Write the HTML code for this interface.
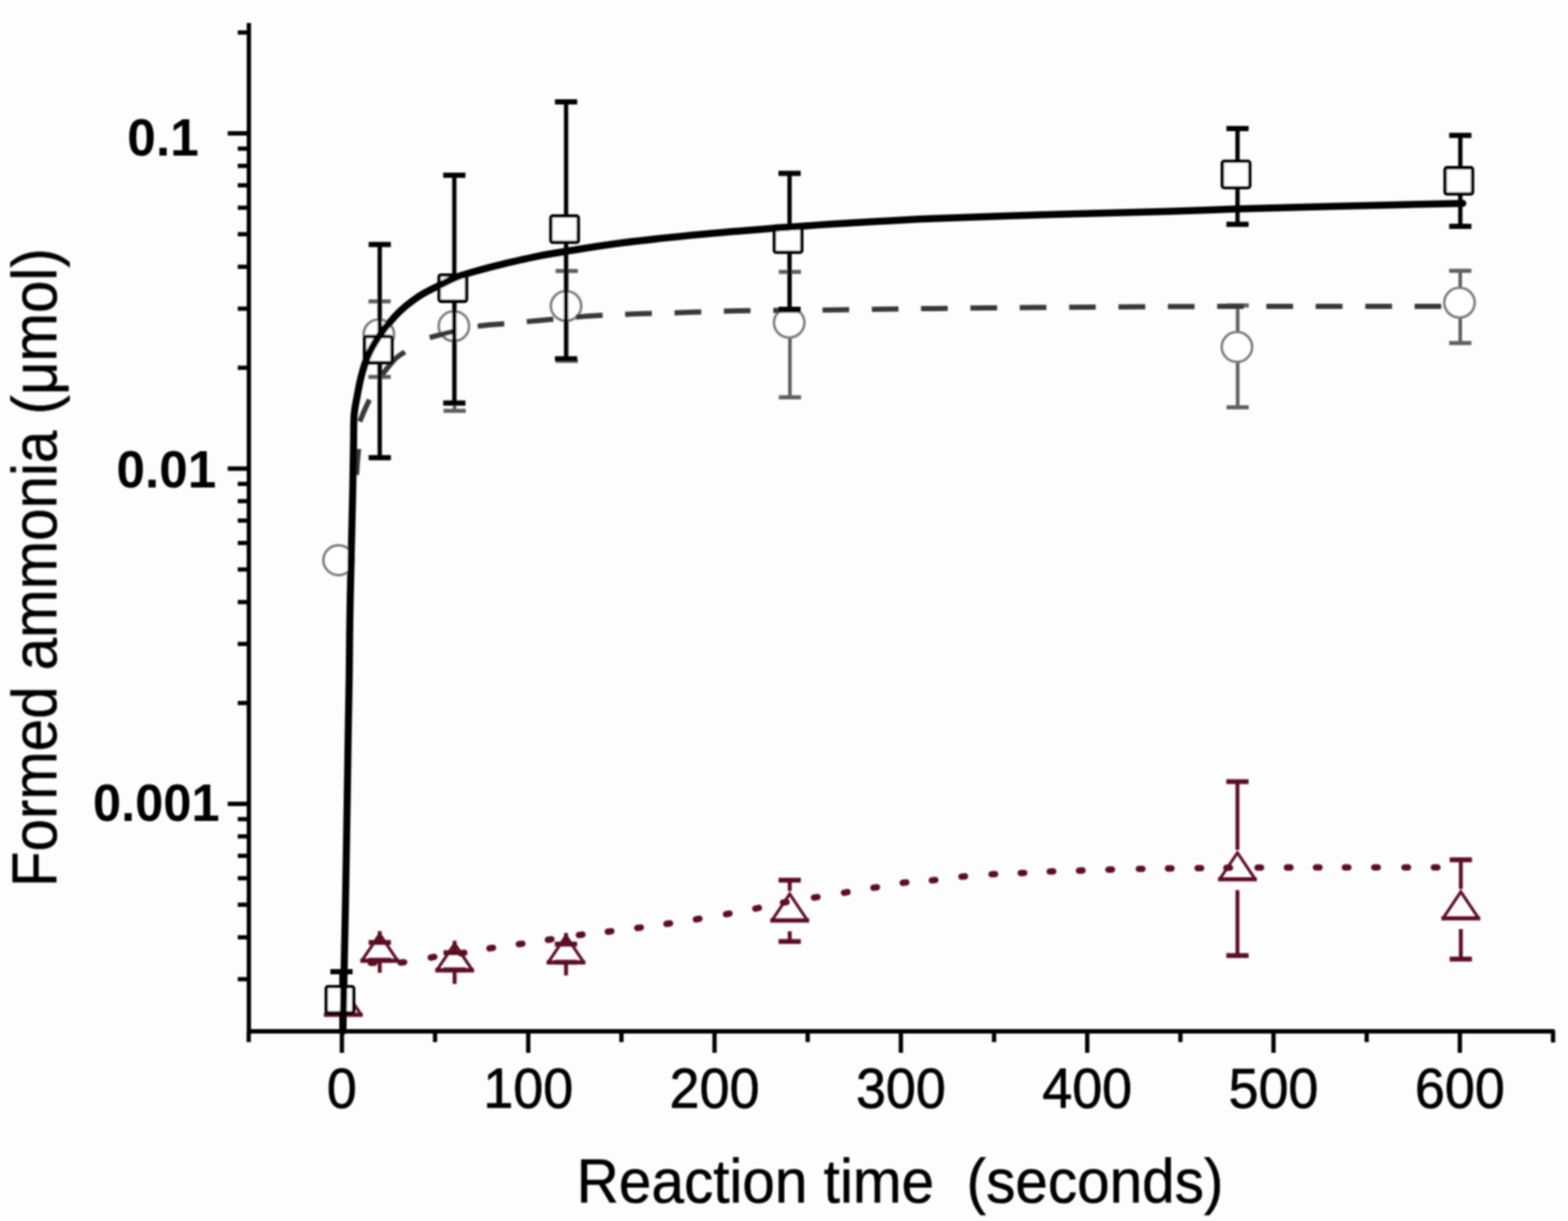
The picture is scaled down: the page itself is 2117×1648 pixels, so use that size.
<!DOCTYPE html><html><head><meta charset="utf-8"><title>Formed ammonia vs reaction time</title>
<style>html,body{margin:0;padding:0;background:#fdfdfd;overflow:hidden}svg{display:block}</style></head><body>
<svg width="2117" height="1648" viewBox="0 0 2117 1648">
<rect width="2117" height="1648" fill="#fdfdfd"/>
<defs><filter id="bl" x="0" y="0" width="2117" height="1648" filterUnits="userSpaceOnUse"><feGaussianBlur stdDeviation="1.1"/></filter></defs>
<g filter="url(#bl)">
<path d="M336 31 V1392 M333.1 1392 H2096.8 V1407 M307.5 180.0 H336 M321 43.8 H336 M307.5 632.5 H336 M321 496.3 H336 M321 416.6 H336 M321 360.1 H336 M321 316.2 H336 M321 280.4 H336 M321 250.1 H336 M321 223.9 H336 M321 200.7 H336 M307.5 1085.0 H336 M321 948.8 H336 M321 869.1 H336 M321 812.6 H336 M321 768.7 H336 M321 732.9 H336 M321 702.6 H336 M321 676.4 H336 M321 653.2 H336 M321 1321.6 H336 M321 1265.1 H336 M321 1221.2 H336 M321 1185.4 H336 M321 1155.1 H336 M321 1128.9 H336 M321 1105.7 H336 M321 43.8 H336 M335.8 1392 V1406.5 M461.6 1392 V1421 M587.4 1392 V1406.5 M713.2 1392 V1421 M839.0 1392 V1406.5 M964.7 1392 V1421 M1090.5 1392 V1406.5 M1216.3 1392 V1421 M1342.1 1392 V1406.5 M1467.9 1392 V1421 M1593.7 1392 V1406.5 M1719.4 1392 V1421 M1845.2 1392 V1406.5 M1971.0 1392 V1421" stroke="#000" stroke-width="5.8" fill="none" stroke-linejoin="round"/>
<g font-family="'Liberation Sans', Arial, sans-serif" fill="#000">
<text x="461.6" y="1495.0" font-size="75.6" stroke="#000" stroke-width="0.9" text-anchor="middle" textLength="40.5" lengthAdjust="spacingAndGlyphs">0</text>
<text x="713.2" y="1495.0" font-size="75.6" stroke="#000" stroke-width="0.9" text-anchor="middle" textLength="121.3" lengthAdjust="spacingAndGlyphs">100</text>
<text x="964.7" y="1495.0" font-size="75.6" stroke="#000" stroke-width="0.9" text-anchor="middle" textLength="121.3" lengthAdjust="spacingAndGlyphs">200</text>
<text x="1216.3" y="1495.0" font-size="75.6" stroke="#000" stroke-width="0.9" text-anchor="middle" textLength="121.3" lengthAdjust="spacingAndGlyphs">300</text>
<text x="1467.9" y="1495.0" font-size="75.6" stroke="#000" stroke-width="0.9" text-anchor="middle" textLength="121.3" lengthAdjust="spacingAndGlyphs">400</text>
<text x="1719.4" y="1495.0" font-size="75.6" stroke="#000" stroke-width="0.9" text-anchor="middle" textLength="121.3" lengthAdjust="spacingAndGlyphs">500</text>
<text x="1971.0" y="1495.0" font-size="75.6" stroke="#000" stroke-width="0.9" text-anchor="middle" textLength="121.3" lengthAdjust="spacingAndGlyphs">600</text>
<text x="171.8" y="209.6" font-size="69.5" font-weight="bold" textLength="96.6" lengthAdjust="spacingAndGlyphs">0.1</text>
<text x="157.3" y="657.7" font-size="69.5" font-weight="bold" textLength="134.6" lengthAdjust="spacingAndGlyphs">0.01</text>
<text x="125.6" y="1107.7" font-size="69.5" font-weight="bold" textLength="171" lengthAdjust="spacingAndGlyphs">0.001</text>
<text transform="translate(778.6,1622.5) scale(0.9455,1)" font-size="83.5" stroke="#000" stroke-width="0.7">Reaction time&#160;&#160;(seconds)</text>
<text transform="translate(76,1197.3) rotate(-90) scale(0.925,1)" font-size="85" stroke="#000" stroke-width="0.6">Formed ammonia (μmol)</text>
</g>
<path d="M512.5 406.8 V508.7 M613.8 400 V554.5 M765.2 365.7 V487 M1066.5 367 V536.3 M1671.0 412.3 V549.8 M1971.5 365.6 V463.0" stroke="#5e5e5e" stroke-width="4.8" fill="none"/>
<path d="M497.5 406.8 h30 M497.5 508.7 h30 M598.8 400 h30 M598.8 554.5 h30 M750.2 365.7 h30 M750.2 487 h30 M1051.5 367 h30 M1051.5 536.3 h30 M1656.0 412.3 h30 M1656.0 549.8 h30 M1956.5 365.6 h30 M1956.5 463.0 h30" stroke="#5e5e5e" stroke-width="5.5" fill="none"/>
<ellipse cx="457.1" cy="756.1" rx="20.4" ry="20.0" fill="#fff" stroke="#7c7c7c" stroke-width="3.6"/>
<ellipse cx="511.5" cy="451.3" rx="20.4" ry="20.0" fill="#fff" stroke="#7c7c7c" stroke-width="3.6"/>
<ellipse cx="612.8" cy="440.2" rx="20.4" ry="20.0" fill="#fff" stroke="#7c7c7c" stroke-width="3.6"/>
<ellipse cx="764.2" cy="413.0" rx="20.4" ry="20.0" fill="#fff" stroke="#7c7c7c" stroke-width="3.6"/>
<ellipse cx="1065.5" cy="435.5" rx="20.4" ry="20.0" fill="#fff" stroke="#7c7c7c" stroke-width="3.6"/>
<ellipse cx="1670.0" cy="468.3" rx="20.4" ry="20.0" fill="#fff" stroke="#7c7c7c" stroke-width="3.6"/>
<ellipse cx="1970.5" cy="408.5" rx="20.4" ry="20.0" fill="#fff" stroke="#7c7c7c" stroke-width="3.6"/>
<path d="M577.60 456.30 C583.58 454.72 602.45 449.43 613.50 446.80 C624.55 444.17 632.82 442.13 643.90 440.50 C654.98 438.87 665.82 438.33 680.00 437.00 C694.18 435.67 709.67 434.25 729.00 432.50 C748.33 430.75 773.83 427.98 796.00 426.50 C818.17 425.02 839.75 424.42 862.00 423.60 C884.25 422.78 907.17 422.27 929.50 421.60 C951.83 420.93 973.75 420.07 996.00 419.60 C1018.25 419.13 1040.83 419.03 1063.00 418.80 C1085.17 418.57 1107.00 418.45 1129.00 418.20 C1151.00 417.95 1173.00 417.60 1195.00 417.30 C1217.00 417.00 1226.83 416.78 1261.00 416.40 C1295.17 416.02 1346.83 415.43 1400.00 415.00 C1453.17 414.57 1520.00 414.05 1580.00 413.80 C1640.00 413.55 1699.00 413.55 1760.00 413.50 C1821.00 413.45 1915.00 413.50 1946.00 413.50" fill="none" stroke="#383838" stroke-width="7.0" stroke-dasharray="35.97 30.64" stroke-dashoffset="63.90"/>
<path d="M481.30 641.00 C481.52 637.83 482.12 627.83 482.60 622.00 C483.08 616.17 483.93 608.67 484.20 606.00" fill="none" stroke="#383838" stroke-width="7.0"/>
<path d="M485.80 569.00 C486.83 566.50 489.83 558.92 492.00 554.00 C494.17 549.08 497.67 541.92 498.80 539.50" fill="none" stroke="#383838" stroke-width="7.0"/>
<path d="M516.00 505.50 C518.83 502.08 527.92 490.08 533.00 485.00 C538.08 479.92 544.25 476.67 546.50 475.00" fill="none" stroke="#383838" stroke-width="7.0"/>
<path d="M512.7 1272 V1256.8 M512.7 1296 V1313.0 M613.8 1285.7 V1269.8 M613.8 1309.0 V1328.0 M764.2 1274.3 V1259.2 M764.2 1298.7 V1316.5 M1066.2 1188 V1202.6 M1066.2 1270.8 V1257.0 M1670.7 1055.1 V1147.0 M1670.7 1289.8 V1201.4 M1972.3 1160.6 V1199.7 M1972.3 1294.4 V1254.1" stroke="#5c0820" stroke-width="5.2" fill="none"/>
<path d="M497.70000000000005 1272 h30 M497.70000000000005 1296 h30 M598.8 1285.7 h30 M598.8 1309.0 h30 M749.2 1274.3 h30 M749.2 1298.7 h30 M1051.2 1188 h30 M1051.2 1270.8 h30 M1655.7 1055.1 h30 M1655.7 1289.8 h30 M1957.3 1160.6 h30 M1957.3 1294.4 h30" stroke="#5c0820" stroke-width="6.5" fill="none"/>
<path d="M439.7 1369.2 L463.5 1333.8 L487.3 1369.2" fill="none" stroke="#5c0820" stroke-width="4.0" stroke-linejoin="miter" stroke-miterlimit="10"/>
<path d="M437.3 1369.6 H489.7" fill="none" stroke="#5c0820" stroke-width="5.6"/>
<path d="M488.90000000000003 1296.2 L512.7 1260.8 L536.5 1296.2" fill="none" stroke="#5c0820" stroke-width="4.0" stroke-linejoin="miter" stroke-miterlimit="10"/>
<path d="M486.50000000000006 1296.6 H538.9000000000001" fill="none" stroke="#5c0820" stroke-width="5.6"/>
<path d="M590.0 1309.2 L613.8 1273.8 L637.5999999999999 1309.2" fill="none" stroke="#5c0820" stroke-width="4.0" stroke-linejoin="miter" stroke-miterlimit="10"/>
<path d="M587.5999999999999 1309.6 H640.0" fill="none" stroke="#5c0820" stroke-width="5.6"/>
<path d="M740.4000000000001 1298.6 L764.2 1263.2 L788.0 1298.6" fill="none" stroke="#5c0820" stroke-width="4.0" stroke-linejoin="miter" stroke-miterlimit="10"/>
<path d="M738.0 1299.0 H790.4000000000001" fill="none" stroke="#5c0820" stroke-width="5.6"/>
<path d="M1042.4 1242.0 L1066.2 1206.6 L1090.0 1242.0" fill="none" stroke="#5c0820" stroke-width="4.0" stroke-linejoin="miter" stroke-miterlimit="10"/>
<path d="M1040.0 1242.4 H1092.4" fill="none" stroke="#5c0820" stroke-width="5.6"/>
<path d="M1646.9 1186.4 L1670.7 1151.0 L1694.5 1186.4" fill="none" stroke="#5c0820" stroke-width="4.0" stroke-linejoin="miter" stroke-miterlimit="10"/>
<path d="M1644.5 1186.8 H1696.9" fill="none" stroke="#5c0820" stroke-width="5.6"/>
<path d="M1948.5 1239.1 L1972.3 1203.7 L1996.1 1239.1" fill="none" stroke="#5c0820" stroke-width="4.0" stroke-linejoin="miter" stroke-miterlimit="10"/>
<path d="M1946.1 1239.5 H1998.5" fill="none" stroke="#5c0820" stroke-width="5.6"/>
<path d="M500.6 1299.5 L505.4 1299.5 M540.8 1299.2 L545.6 1298.8 M581.5 1292.4 L586.3 1291.6 M622.1 1286.7 L626.9 1285.9 M660.8 1280.1 L665.6 1279.3 M700.5 1274.3 L705.3 1273.7 M739.7 1268.6 L744.5 1267.8 M781.6 1262.0 L786.4 1261.4 M820.6 1257.5 L825.4 1256.9 M860.4 1252.5 L865.2 1251.9 M899.8 1247.1 L904.6 1246.3 M939.5 1240.9 L944.3 1240.1 M980.1 1233.9 L984.9 1233.1 M1019.8 1226.4 L1024.6 1225.4 M1057.1 1218.3 L1061.9 1217.5 M1098.9 1211.5 L1103.7 1210.7 M1139.5 1204.9 L1144.3 1204.1 M1179.2 1198.3 L1184.0 1197.5 M1218.8 1191.6 L1223.6 1191.0 M1258.0 1188.2 L1262.8 1187.8 M1298.1 1183.3 L1302.9 1182.9 M1338.8 1180.0 L1343.6 1179.8 M1378.1 1178.4 L1382.9 1178.2 M1417.2 1176.3 L1422.0 1176.1 M1456.8 1175.1 L1461.6 1174.9 M1496.5 1173.8 L1501.3 1173.6 M1537.6 1172.7 L1542.4 1172.7 M1576.9 1172.1 L1581.7 1172.1 M1616.9 1171.7 L1621.7 1171.7 M1655.8 1171.3 L1660.6 1171.3 M1697.8 1171.0 L1702.6 1171.0 M1737.5 1170.9 L1742.3 1170.9 M1776.7 1170.8 L1781.5 1170.8 M1815.7 1170.8 L1820.5 1170.8 M1855.4 1170.8 L1860.2 1170.8 M1896.2 1170.8 L1901.0 1170.8 M1935.9 1170.8 L1940.7 1170.8" fill="none" stroke="#5c0820" stroke-width="8.6" stroke-linecap="round"/>
<path d="M461.0 1311.5 V1392 M512.7 330.1 V617.8 M613.4 236.4 V543.9 M764.3 137.6 V484.2 M1066.0 233.9 V417.4 M1670.8 173.4 V302.8 M1971.6 182.7 V305.5" stroke="#000" stroke-width="5.8" fill="none"/>
<path d="M446.0 1311.5 h30 M497.70000000000005 330.1 h30 M497.70000000000005 617.8 h30 M598.4 236.4 h30 M598.4 543.9 h30 M749.3 137.6 h30 M749.3 484.2 h30 M1051.0 233.9 h30 M1051.0 417.4 h30 M1655.8 173.4 h30 M1655.8 302.8 h30 M1956.6 182.7 h30 M1956.6 305.5 h30" stroke="#000" stroke-width="7" fill="none"/>
<rect x="440.5" y="1331.7" width="37" height="35.4" rx="2.5" fill="#fff" stroke="#000" stroke-width="4.6"/>
<rect x="492.2" y="454.1" width="37" height="35.4" rx="2.5" fill="#fff" stroke="#000" stroke-width="4.6"/>
<rect x="592.9" y="371.2" width="37" height="35.4" rx="2.5" fill="#fff" stroke="#000" stroke-width="4.6"/>
<rect x="743.8" y="291.6" width="37" height="35.4" rx="2.5" fill="#fff" stroke="#000" stroke-width="4.6"/>
<rect x="1045.5" y="305.1" width="37" height="35.4" rx="2.5" fill="#fff" stroke="#000" stroke-width="4.6"/>
<rect x="1650.3" y="217.8" width="37" height="35.4" rx="2.5" fill="#fff" stroke="#000" stroke-width="4.6"/>
<rect x="1951.1" y="226.4" width="37" height="35.4" rx="2.5" fill="#fff" stroke="#000" stroke-width="4.6"/>
<path d="M463.00 1392.00 C463.30 1376.67 464.22 1329.50 464.80 1300.00 C465.38 1270.50 465.97 1243.83 466.50 1215.00 C467.03 1186.17 467.52 1156.17 468.00 1127.00 C468.48 1097.83 469.02 1064.50 469.40 1040.00 C469.78 1015.50 469.95 1001.17 470.30 980.00 C470.65 958.83 471.15 937.50 471.50 913.00 C471.85 888.50 471.97 859.67 472.40 833.00 C472.83 806.33 473.50 779.67 474.10 753.00 C474.70 726.33 475.47 698.50 476.00 673.00 C476.53 647.50 476.95 618.83 477.30 600.00 C477.65 581.17 477.32 570.68 478.10 560.00 C478.88 549.32 480.55 543.95 482.00 535.90 C483.45 527.85 485.10 518.98 486.80 511.70 C488.50 504.42 490.33 497.87 492.20 492.20 C494.07 486.53 495.73 482.55 498.00 477.70 C500.27 472.85 502.88 467.97 505.80 463.10 C508.72 458.23 511.95 453.35 515.50 448.50 C519.05 443.65 522.90 438.85 527.10 434.00 C531.30 429.15 535.68 424.10 540.70 419.40 C545.72 414.70 551.73 409.83 557.20 405.80 C562.67 401.77 566.73 399.00 573.50 395.20 C580.27 391.40 589.72 386.85 597.80 383.00 C605.88 379.15 611.63 375.73 622.00 372.10 C632.37 368.47 650.00 363.93 660.00 361.20 C670.00 358.47 671.05 358.25 682.00 355.70 C692.95 353.15 712.03 348.63 725.70 345.90 C739.37 343.17 744.95 342.32 764.00 339.30 C783.05 336.28 809.00 331.68 840.00 327.80 C871.00 323.92 912.33 319.55 950.00 316.00 C987.67 312.45 1031.00 309.12 1066.00 306.50 C1101.00 303.88 1127.67 302.22 1160.00 300.30 C1192.33 298.38 1216.67 296.80 1260.00 295.00 C1303.33 293.20 1366.67 291.12 1420.00 289.50 C1473.33 287.88 1538.20 286.55 1580.00 285.30 C1621.80 284.05 1634.13 283.13 1670.80 282.00 C1707.47 280.87 1749.30 279.75 1800.00 278.50 C1850.70 277.25 1945.83 275.17 1975.00 274.50" fill="none" stroke="#000" stroke-width="9.5" stroke-linejoin="round" stroke-linecap="round"/>
</g>
</svg></body></html>
